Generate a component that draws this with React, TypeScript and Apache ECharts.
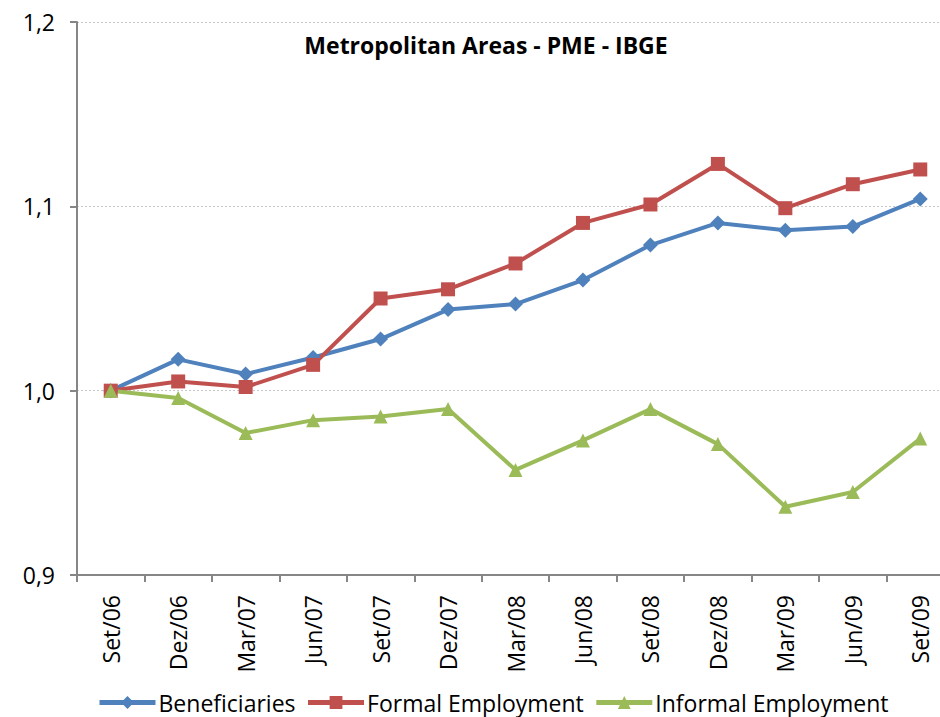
import React, { useEffect, useRef } from "react";
import * as echarts from "echarts";

const categories = ["Set/06","Dez/06","Mar/07","Jun/07","Set/07","Dez/07","Mar/08","Jun/08","Set/08","Dez/08","Mar/09","Jun/09","Set/09"];
const beneficiaries = [1.000,1.017,1.009,1.018,1.028,1.044,1.047,1.060,1.079,1.091,1.087,1.089,1.104];
const formalEmployment = [1.000,1.005,1.002,1.014,1.050,1.055,1.069,1.091,1.101,1.123,1.099,1.112,1.120];
const informalEmployment = [1.000,0.996,0.977,0.984,0.986,0.990,0.957,0.973,0.990,0.971,0.937,0.945,0.974];

const FONT = "'Open Sans', Lato, sans-serif";

export default function App() {
  const ref = useRef<HTMLDivElement>(null);
  useEffect(() => {
    const chart = echarts.init(ref.current!, null, { renderer: "svg" });
    const mk = (name: string, data: number[], color: string, symbol: string, size: number) => ({
      name, type: "line", data, symbol, symbolSize: size,
      lineStyle: { color, width: 4 }, itemStyle: { color },
    });
    chart.setOption({
      animation: false,
      title: {
        text: "Metropolitan Areas - PME - IBGE",
        left: 481, top: 28, textAlign: "center",
        textStyle: { fontFamily: FONT, fontSize: 23, fontWeight: "bold", color: "#000" },
      },
      legend: {
        top: 690, left: 97, padding: 0,
        itemWidth: 56, itemHeight: 16, itemGap: 10,
        lineStyle: { width: 5 },
        textStyle: { fontFamily: FONT, fontSize: 23, lineHeight: 25, color: "#000", padding: [0, 0, 0, -2] },
        data: ["Beneficiaries", "Formal Employment", "Informal Employment"],
      },
      grid: { left: 77, top: 22, width: 877, height: 553, containLabel: false },
      xAxis: {
        type: "category", data: categories, boundaryGap: true,
        axisLine: { lineStyle: { color: "#868686", width: 2 } },
        axisTick: { show: true, length: 7, alignWithLabel: false, lineStyle: { color: "#868686", width: 2 } },
        axisLabel: { rotate: 90, fontFamily: FONT, fontSize: 23, color: "#000", margin: 20 },
      },
      yAxis: {
        type: "value", min: 0.9, max: 1.2, interval: 0.1,
        axisLine: { show: true, lineStyle: { color: "#868686", width: 2 } },
        axisTick: { show: true, length: 7, lineStyle: { color: "#868686", width: 2 } },
        axisLabel: {
          fontFamily: FONT, fontSize: 23, color: "#000", margin: 22,
          formatter: (v: number) => v.toFixed(1).replace(".", ","),
        },
        splitLine: { lineStyle: { color: "#c8c8c8", type: [2, 2], width: 1 } },
      },
      series: [
        mk("Beneficiaries", beneficiaries, "#4F81BD", "diamond", 15),
        mk("Formal Employment", formalEmployment, "#C0504D", "rect", 14),
        mk("Informal Employment", informalEmployment, "#9BBB59", "triangle", 14),
      ],
    });
    return () => chart.dispose();
  }, []);
  return (
    <div style={{ width: 940, height: 717, position: "absolute", left: 0, top: 0, overflow: "hidden" }}>
      <div ref={ref} style={{ width: 960, height: 717 }} />
    </div>
  );
}
